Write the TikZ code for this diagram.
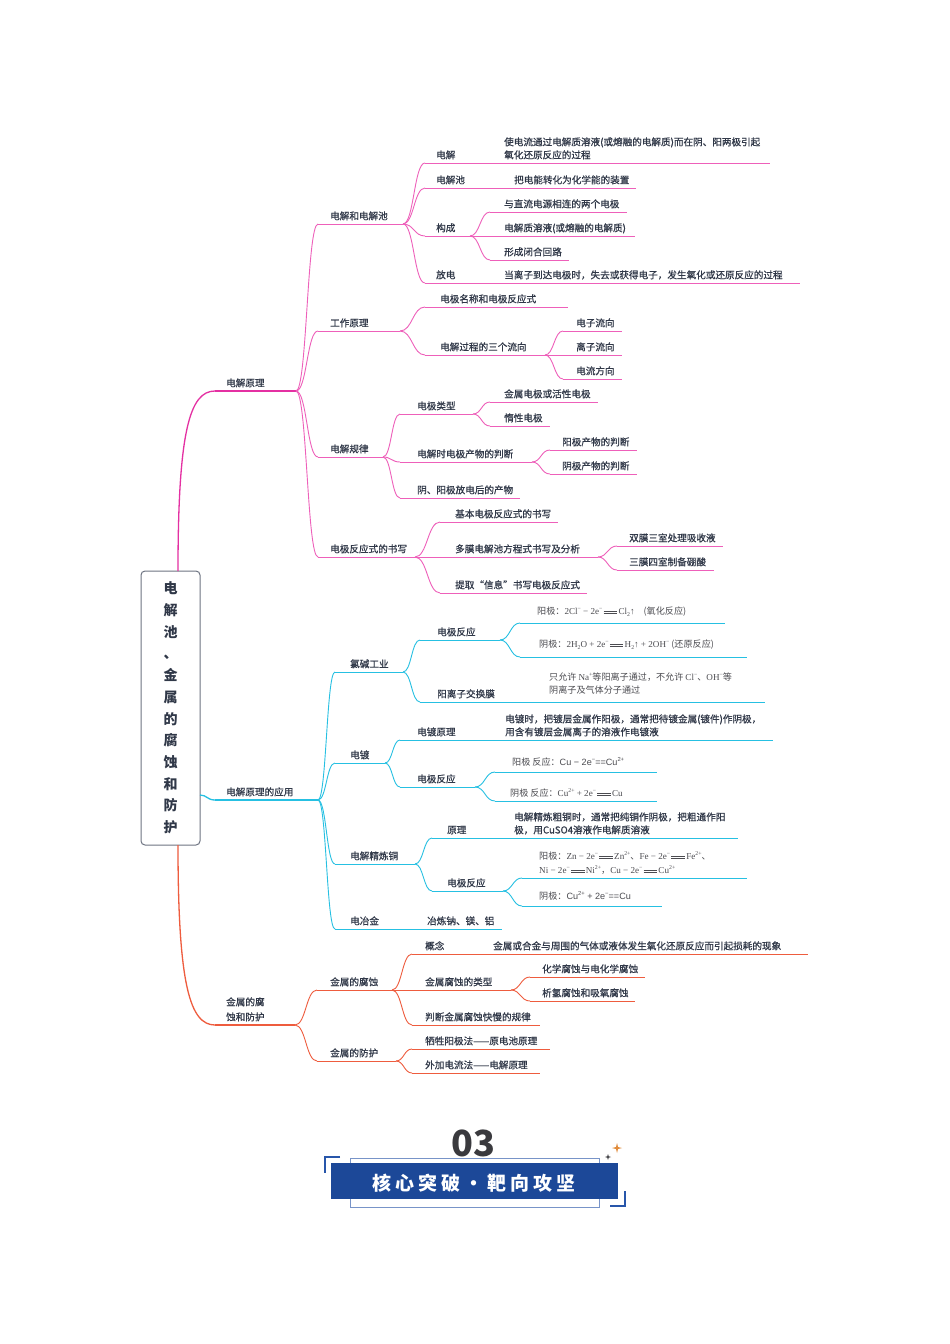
\documentclass[tikz,border=0pt]{standalone}
\usepackage{fontspec}
\setmainfont{Noto Sans CJK SC}
\newfontfamily\med{Noto Sans CJK SC}[FakeBold=0.7]
\newfontfamily\ser{Liberation Serif}
\newfontfamily\sns{Liberation Sans}
\usetikzlibrary{calc}
\definecolor{pk}{RGB}{238,96,186}
\definecolor{pkd}{RGB}{228,48,162}
\definecolor{cy}{RGB}{38,192,226}
\definecolor{rd}{RGB}{238,92,62}
\definecolor{tx}{RGB}{48,56,72}
\definecolor{fx}{RGB}{75,75,80}
\definecolor{bx}{RGB}{110,116,130}
\definecolor{bn}{RGB}{28,72,152}
\definecolor{bnl}{RGB}{120,148,200}
\definecolor{bnb}{RGB}{40,86,170}
\definecolor{og}{RGB}{225,140,60}
\definecolor{dg}{RGB}{58,58,62}
\newcommand\sps[1]{\raisebox{0.42em}{\fontsize{5.8}{6}\selectfont #1}}
\newcommand\sbs[1]{\raisebox{-0.18em}{\fontsize{5.8}{6}\selectfont #1}}
\newcommand\dbeq{\kern1.2pt\rlap{\rule[0.18em]{1.5em}{0.35pt}}\rule[0.4em]{1.5em}{0.35pt}\kern1.2pt}
% #1 node style, #2 name, #3 line style, #4 xs, #5 xe, #6 yu, #7 xt, #8 text
\newcommand\tp[8][lbl]{%
  \coordinate (#2s) at (#4,#6);
  \coordinate (#2e) at (#5,#6);
  \draw[#3] (#2s) -- (#2e);
  \node[#1,anchor=base west] (#2) at (#7,#6-4.5) {#8};}
\tikzset{
  lbl/.style={font=\med\fontsize{9.6}{13}\selectfont, text=tx, inner sep=0pt, align=left},
  fml/.style={font=\fontsize{9.1}{13}\selectfont, text=fx, inner sep=0pt, align=left},
  mm/.style={to path={.. controls ($(\tikztostart)!0.5!(\tikztostart -| \tikztotarget)$) and ($(\tikztotarget)!0.5!(\tikztotarget -| \tikztostart)$) .. (\tikztotarget)}},
  pl/.style={draw=pk, line width=0.9pt},
  pl1/.style={draw=pkd, line width=1.3pt},
  cl/.style={draw=cy, line width=0.9pt},
  cl1/.style={draw=cy, line width=1.3pt},
  rl/.style={draw=rd, line width=0.9pt},
  rl1/.style={draw=rd, line width=1.3pt},
  rootbox/.style={draw=bx, line width=1pt, rounded corners=4pt, fill=white, minimum width=59pt, minimum height=274pt, inner sep=0pt, align=center, text=tx, font=\bfseries\fontsize{14}{21.7}\selectfont}
}
\begin{document}
\begin{tikzpicture}[x=1pt,y=-1pt]
\fill[white] (0,0) rectangle (950,1344);
\useasboundingbox (0,0) rectangle (950,1344);

% root
\node[rootbox] (root) at (170.5,708) {电\\解\\池\\、\\金\\属\\的\\腐\\蚀\\和\\防\\护};
\coordinate (rt) at (178,571);
\coordinate (rr) at (200,795);
\coordinate (rb) at (178,845);

% level 1
\tp{A}{pl1}{215}{296}{391}{226}{电解原理}
\tp{B}{cl1}{215}{318}{800}{226}{电解原理的应用}
\tp{C}{rl1}{215}{295}{1025}{226}{金属的腐\\[2pt]蚀和防护}
\draw[pl1] (rt) .. controls (178,430) and (190,391) .. (As);
\draw[cl1] (rr) .. controls (207,795) and (207,800) .. (Bs);
\draw[rl1] (rb) .. controls (178,985) and (190,1025) .. (Cs);

% ---------- 电解原理
\tp{A1}{pl}{318}{403}{224}{330}{电解和电解池}
\tp{A2}{pl}{318}{400}{331}{330}{工作原理}
\tp{A3}{pl}{318}{383}{457}{330}{电解规律}
\tp{A4}{pl}{318}{415}{557}{330}{电极反应式的书写}
\foreach \nn in {A1,A2,A3,A4} \draw[pl] (Ae) to[mm] (\nn s);

\tp{A11}{pl}{425}{485}{163}{436}{电解}
\tp{A111}{pl}{495}{770}{163}{504}{使电流通过电解质溶液(或熔融的电解质)而在阴、阳两极引起\\氧化还原反应的过程}
\tp{A12}{pl}{425}{485}{188}{436}{电解池}
\tp{A121}{pl}{495}{636}{188}{514}{把电能转化为化学能的装置}
\tp{A13}{pl}{425}{470}{236}{436}{构成}
\tp{A131}{pl}{490}{627}{212}{504}{与直流电源相连的两个电极}
\tp{A132}{pl}{490}{635}{236}{504}{电解质溶液(或熔融的电解质)}
\tp{A133}{pl}{490}{569}{260}{504}{形成闭合回路}
\tp{A14}{pl}{425}{485}{283}{436}{放电}
\tp{A141}{pl}{495}{800}{283}{504}{当离子到达电极时，失去或获得电子，发生氧化或还原反应的过程}
\foreach \nn in {A11,A12,A13,A14} \draw[pl] (A1e) to[mm] (\nn s);
\foreach \nn in {A131,A132,A133} \draw[pl] (A13e) to[mm] (\nn s);
\draw[pl] (A11e) -- (A111s);
\draw[pl] (A12e) -- (A121s);
\draw[pl] (A14e) -- (A141s);

\tp{A21}{pl}{425}{568}{307}{440}{电极名称和电极反应式}
\tp{A22}{pl}{425}{545}{355}{440}{电解过程的三个流向}
\tp{A221}{pl}{563}{622}{331}{576}{电子流向}
\tp{A222}{pl}{563}{622}{355}{576}{离子流向}
\tp{A223}{pl}{563}{622}{379}{576}{电流方向}
\foreach \nn in {A21,A22} \draw[pl] (A2e) to[mm] (\nn s);
\foreach \nn in {A221,A222,A223} \draw[pl] (A22e) to[mm] (\nn s);

\tp{A31}{pl}{400}{473}{414}{417}{电极类型}
\tp{A311}{pl}{490}{598}{402}{504}{金属电极或活性电极}
\tp{A312}{pl}{490}{550}{426}{504}{惰性电极}
\tp{A32}{pl}{400}{532}{462}{417}{电解时电极产物的判断}
\tp{A321}{pl}{550}{637}{450}{562}{阳极产物的判断}
\tp{A322}{pl}{550}{637}{474}{562}{阴极产物的判断}
\tp{A33}{pl}{400}{520}{498}{417}{阴、阳极放电后的产物}
\foreach \nn in {A31,A32,A33} \draw[pl] (A3e) to[mm] (\nn s);
\foreach \nn in {A311,A312} \draw[pl] (A31e) to[mm] (\nn s);
\foreach \nn in {A321,A322} \draw[pl] (A32e) to[mm] (\nn s);

\tp{A41}{pl}{440}{558}{522}{455}{基本电极反应式的书写}
\tp{A42}{pl}{440}{598}{557}{455}{多膜电解池方程式书写及分析}
\tp{A421}{pl}{617}{723}{546}{629}{双膜三室处理吸收液}
\tp{A422}{pl}{617}{714}{570}{629}{三膜四室制备硼酸}
\tp{A43}{pl}{440}{587}{593}{455}{提取“信息”书写电极反应式}
\foreach \nn in {A41,A42,A43} \draw[pl] (A4e) to[mm] (\nn s);
\foreach \nn in {A421,A422} \draw[pl] (A42e) to[mm] (\nn s);

% ---------- 电解原理的应用
\tp{B1}{cl}{335}{403}{672}{350}{氯碱工业}
\tp{B2}{cl}{335}{385}{763}{350}{电镀}
\tp{B3}{cl}{335}{415}{864}{350}{电解精炼铜}
\tp{B4}{cl}{335}{412}{929}{350}{电冶金}
\tp{B41}{cl}{415}{502}{929}{427}{冶炼钠、镁、铝}
\foreach \nn in {B1,B2,B3,B4} \draw[cl] (Be) to[mm] (\nn s);
\draw[cl] (B4e) -- (B41s);

\tp{B11}{cl}{420}{500}{640}{437}{电极反应}
\tp[fml,yshift=4pt]{B111}{cl}{520}{725}{623}{537}{阳极：{\ser 2Cl\sps{−} − 2e\sps{−}\dbeq Cl\sbs{2}↑}\quad(氧化反应)}
\tp[fml,yshift=5pt]{B112}{cl}{520}{747}{657}{539}{阴极：{\ser 2H\sbs{2}O + 2e\sps{−}\dbeq H\sbs{2}↑ + 2OH\sps{−}}\ (还原反应)}
\tp{B12}{cl}{420}{530}{702}{437}{阳离子交换膜}
\tp[fml,yshift=4pt]{B121}{cl}{535}{765}{702}{549}{只允许 {\ser Na\sps{+}}等阳离子通过，不允许 {\ser Cl\sps{−}}、{\ser OH\sps{−}}等\\阴离子及气体分子通过}
\foreach \nn in {B11,B12} \draw[cl] (B1e) to[mm] (\nn s);
\foreach \nn in {B111,B112} \draw[cl] (B11e) to[mm] (\nn s);
\draw[cl] (B12e) -- (B121s);

\tp{B21}{cl}{400}{490}{740}{417}{电镀原理}
\tp{B211}{cl}{495}{773}{740}{505}{电镀时，把镀层金属作阳极，通常把待镀金属(镀件)作阴极，\\用含有镀层金属离子的溶液作电镀液}
\tp{B22}{cl}{400}{475}{787}{417}{电极反应}
\tp[fml,yshift=2pt]{B221}{cl}{495}{657}{772}{512}{阳极 反应：{\sns Cu − 2e\sps{−}==Cu\sps{2+}}}
\tp[fml]{B222}{cl}{495}{657}{801}{510}{阴极 反应：{\ser Cu\sps{2+} + 2e\sps{−}\dbeq Cu}}
\foreach \nn in {B21,B22} \draw[cl] (B2e) to[mm] (\nn s);
\draw[cl] (B21e) -- (B211s);
\foreach \nn in {B221,B222} \draw[cl] (B22e) to[mm] (\nn s);

\tp{B31}{cl}{432}{500}{838}{447}{原理}
\tp{B311}{cl}{505}{738}{838}{514}{电解精炼粗铜时，通常把纯铜作阴极，把粗通作阳\\极，用CuSO4溶液作电解质溶液}
\tp{B32}{cl}{432}{503}{891}{447}{电极反应}
\tp[fml]{B321}{cl}{522}{747}{878}{539}{阳极：{\ser Zn − 2e\sps{−}\dbeq Zn\sps{2+}}、{\ser Fe − 2e\sps{−}\dbeq Fe\sps{2+}}、\\[1pt]{\ser Ni − 2e\sps{−}\dbeq Ni\sps{2+}}，{\ser Cu − 2e\sps{−}\dbeq Cu\sps{2+}}}
\tp[fml,yshift=2pt]{B322}{cl}{522}{662}{906}{539}{阴极：{\sns Cu\sps{2+} + 2e\sps{−}==Cu}}
\foreach \nn in {B31,B32} \draw[cl] (B3e) to[mm] (\nn s);
\draw[cl] (B31e) -- (B311s);
\foreach \nn in {B321,B322} \draw[cl] (B32e) to[mm] (\nn s);

% ---------- 金属的腐蚀和防护
\tp{C1}{rl}{317}{392}{990}{330}{金属的腐蚀}
\tp{C2}{rl}{317}{396}{1061}{330}{金属的防护}
\foreach \nn in {C1,C2} \draw[rl] (Ce) to[mm] (\nn s);
\tp{C11}{rl}{412}{480}{954}{425}{概念}
\tp{C111}{rl}{485}{808}{954}{493}{金属或合金与周围的气体或液体发生氧化还原反应而引起损耗的现象}
\tp{C12}{rl}{412}{511}{990}{425}{金属腐蚀的类型}
\tp{C121}{rl}{530}{645}{977}{542}{化学腐蚀与电化学腐蚀}
\tp{C122}{rl}{530}{635}{1001}{542}{析氢腐蚀和吸氧腐蚀}
\tp{C13}{rl}{412}{540}{1025}{425}{判断金属腐蚀快慢的规律}
\tp{C21}{rl}{412}{550}{1049}{425}{牺牲阳极法——原电池原理}
\tp{C22}{rl}{412}{540}{1073}{425}{外加电流法——电解原理}
\foreach \nn in {C11,C12,C13} \draw[rl] (C1e) to[mm] (\nn s);
\draw[rl] (C11e) -- (C111s);
\foreach \nn in {C121,C122} \draw[rl] (C12e) to[mm] (\nn s);
\foreach \nn in {C21,C22} \draw[rl] (C2e) to[mm] (\nn s);

% ---------- banner
\node[font=\bfseries\fontsize{36}{36}\selectfont, text=dg, inner sep=0pt] (num) at (473,1143) {03};
\draw[bnl, line width=0.8pt] (350,1158) rectangle (599,1207);
\fill[bn] (331,1163) rectangle (618,1199);
\draw[bnb, line width=1.3pt] (340,1157) -- (325,1157) -- (325,1173);
\draw[bnb, line width=1.3pt] (610,1206) -- (625,1206) -- (625,1191);
\fill[og] (617,1143) -- (618,1147) -- (622,1148) -- (618,1149) -- (617,1153) -- (616,1149) -- (612,1148) -- (616,1147) -- cycle;
\fill[dg] (608,1154) -- (608.7,1156.3) -- (611,1157) -- (608.7,1157.7) -- (608,1160) -- (607.3,1157.7) -- (605,1157) -- (607.3,1156.3) -- cycle;
\node[font=\bfseries\fontsize{19}{19}\selectfont, text=white, inner sep=0pt] (ban) at (474,1183) {核\hspace{4pt}心\hspace{4pt}突\hspace{4pt}破\hspace{4pt}・\hspace{4pt}靶\hspace{4pt}向\hspace{4pt}攻\hspace{4pt}坚};
\end{tikzpicture}
\end{document}
